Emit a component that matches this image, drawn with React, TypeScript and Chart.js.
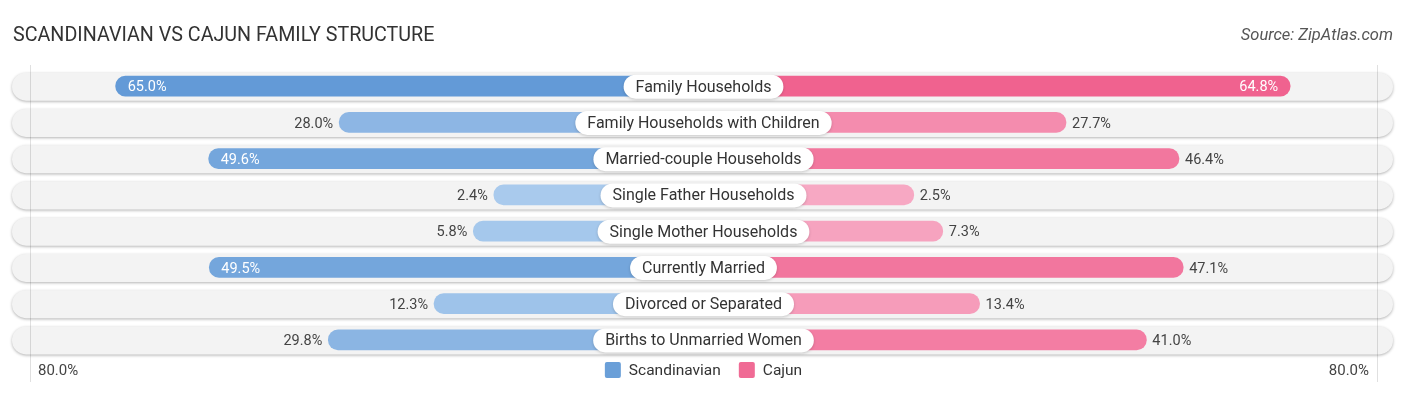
import React, { useEffect, useRef } from "react";
import { Chart, registerables } from "chart.js";
Chart.register(...registerables);

const categories = [
  "Family Households",
  "Family Households with Children",
  "Married-couple Households",
  "Single Father Households",
  "Single Mother Households",
  "Currently Married",
  "Divorced or Separated",
  "Births to Unmarried Women",
];
const scandinavian = [65.0, 28.0, 49.6, 2.4, 5.8, 49.5, 12.3, 29.8];
const cajun = [64.8, 27.7, 46.4, 2.5, 7.3, 47.1, 13.4, 41.0];
const seriesNames = ["Scandinavian", "Cajun"];
const axisMax = 80;
const axisTickLabels = ["80.0%", "80.0%"];
const titleText = "SCANDINAVIAN VS CAJUN FAMILY STRUCTURE";
const sourceText = "Source: ZipAtlas.com";

const OFF = 32.3; // space reserved under the centre label, in value units
const FONT = "Roboto, 'Noto Sans', sans-serif";

const BLUE_STRONG = [99, 154, 215];
const BLUE_LIGHT = [172, 204, 238];
const PINK_STRONG = [240, 98, 143];
const PINK_LIGHT = [247, 171, 197];

function mix(a: number[], b: number[], t: number) {
  const c = a.map((av, i) => Math.round(av + (b[i] - av) * t));
  return `rgb(${c[0]},${c[1]},${c[2]})`;
}
function shade(light: number[], strong: number[], v: number) {
  const t = Math.max(0, Math.min(1, v / 65));
  return mix(light, strong, t);
}

function rr(ctx: CanvasRenderingContext2D, x: number, y: number, w: number, h: number, r: number) {
  ctx.beginPath();
  ctx.moveTo(x + r, y);
  ctx.lineTo(x + w - r, y);
  ctx.arcTo(x + w, y, x + w, y + r, r);
  ctx.lineTo(x + w, y + h - r);
  ctx.arcTo(x + w, y + h, x + w - r, y + h, r);
  ctx.lineTo(x + r, y + h);
  ctx.arcTo(x, y + h, x, y + h - r, r);
  ctx.lineTo(x, y + r);
  ctx.arcTo(x, y, x + r, y, r);
  ctx.closePath();
}

const rowBg = {
  id: "rowBg",
  beforeDatasetsDraw(chart: any) {
    const { ctx, scales } = chart;
    const y = scales.y;
    const left = 12;
    const right = 1393;
    ctx.save();
    categories.forEach((_, i) => {
      const cy = y.getPixelForValue(i) + 0.5;
      const h = 28;
      ctx.save();
      rr(ctx, left, cy - h / 2, right - left, h, h / 2);
      ctx.shadowColor = "rgba(0,0,0,0.3)";
      ctx.shadowBlur = 3;
      ctx.shadowOffsetY = 1;
      ctx.fillStyle = "#f3f3f3";
      ctx.fill();
      ctx.restore();
    });
    ctx.strokeStyle = "rgba(0,0,0,0.12)";
    ctx.lineWidth = 1;
    for (const px of [30.5, 1377.5]) {
      ctx.beginPath();
      ctx.moveTo(px, 65);
      ctx.lineTo(px, 382);
      ctx.stroke();
    }
    ctx.restore();
  },
};

const labelsPlugin = {
  id: "labelsPlugin",
  afterDatasetsDraw(chart: any) {
    const { ctx, scales } = chart;
    const x = scales.x;
    const y = scales.y;
    const cx = x.getPixelForValue(0);
    ctx.save();
    categories.forEach((cat, i) => {
      const cy = y.getPixelForValue(i);
      // centre label pill
      ctx.font = `16px ${FONT}`;
      const tw = ctx.measureText(cat).width;
      const w = tw + 24;
      const h = 24;
      ctx.save();
      rr(ctx, cx - w / 2, cy - h / 2 + 0.5, w, h, h / 2);
      ctx.shadowColor = "rgba(0,0,0,0.18)";
      ctx.shadowBlur = 3;
      ctx.shadowOffsetY = 1;
      ctx.fillStyle = "#ffffff";
      ctx.fill();
      ctx.restore();
      ctx.fillStyle = "#333333";
      ctx.textAlign = "center";
      ctx.textBaseline = "middle";
      ctx.fillText(cat, cx, cy + 1.5);

      // value labels
      ctx.font = `14.5px ${FONT}`;
      const sv = scandinavian[i];
      const lpx = x.getPixelForValue(-(sv + OFF));
      const sTxt = sv.toFixed(1) + "%";
      if (sv >= 48) {
        ctx.fillStyle = "#ffffff";
        ctx.textAlign = "left";
        ctx.fillText(sTxt, lpx + 12, cy + 1.5);
      } else {
        ctx.fillStyle = "#444444";
        ctx.textAlign = "right";
        ctx.fillText(sTxt, lpx - 6, cy + 1.5);
      }
      const cv = cajun[i];
      const rpx = x.getPixelForValue(cv + OFF);
      const cTxt = cv.toFixed(1) + "%";
      if (cv >= 48) {
        ctx.fillStyle = "#ffffff";
        ctx.textAlign = "right";
        ctx.fillText(cTxt, rpx - 12, cy + 1.5);
      } else {
        ctx.fillStyle = "#444444";
        ctx.textAlign = "left";
        ctx.fillText(cTxt, rpx + 6, cy + 1.5);
      }
    });
    ctx.restore();
  },
  afterDraw(chart: any) {
    const { ctx, scales } = chart;
    const x = scales.x;
    ctx.save();
    // title
    ctx.font = `19.7px ${FONT}`;
    ctx.fillStyle = "#333333";
    ctx.textAlign = "left";
    ctx.textBaseline = "alphabetic";
    ctx.fillText(titleText, 13, 41);
    // source
    ctx.font = `italic 16.5px ${FONT}`;
    ctx.fillStyle = "#555555";
    ctx.textAlign = "right";
    ctx.fillText(sourceText, 1393, 40);
    // axis tick labels
    ctx.font = `15px ${FONT}`;
    ctx.fillStyle = "#444444";
    ctx.textBaseline = "middle";
    ctx.textAlign = "left";
    ctx.fillText(axisTickLabels[0], 38, 371);
    ctx.textAlign = "right";
    ctx.fillText(axisTickLabels[1], 1369, 371);
    // legend
    const items = [
      { name: seriesNames[0], color: "rgb(106,159,216)" },
      { name: seriesNames[1], color: "rgb(240,107,149)" },
    ];
    ctx.font = `15.5px ${FONT}`;
    const sq = 16;
    const gap = 8;
    const itemGap = 18;
    const widths = items.map((it) => sq + gap + ctx.measureText(it.name).width);
    const total = widths.reduce((a, b) => a + b, 0) + itemGap;
    let lx = x.getPixelForValue(0) - total / 2;
    const ly = 370;
    items.forEach((it, k) => {
      ctx.fillStyle = it.color;
      rr(ctx, lx, ly - sq / 2, sq, sq, 2);
      ctx.fill();
      ctx.fillStyle = "#333333";
      ctx.textAlign = "left";
      ctx.fillText(it.name, lx + sq + gap, ly + 1);
      lx += widths[k] + itemGap;
    });
    ctx.restore();
  },
};

export default function App() {
  const ref = useRef<HTMLCanvasElement>(null);
  useEffect(() => {
    const canvas = ref.current;
    if (!canvas) return;
    const chart = new Chart(canvas, {
      type: "bar",
      data: {
        labels: categories,
        datasets: [
          {
            label: seriesNames[0],
            data: scandinavian.map((v) => [-(v + OFF), 0]) as any,
            backgroundColor: scandinavian.map((v) => shade(BLUE_LIGHT, BLUE_STRONG, v)),
            borderRadius: 10,
            borderSkipped: false,
            barThickness: 20,
            grouped: false,
          } as any,
          {
            label: seriesNames[1],
            data: cajun.map((v) => [0, v + OFF]) as any,
            backgroundColor: cajun.map((v) => shade(PINK_LIGHT, PINK_STRONG, v)),
            borderRadius: 10,
            borderSkipped: false,
            barThickness: 20,
            grouped: false,
          } as any,
        ],
      },
      options: {
        indexAxis: "y",
        responsive: false,
        animation: false,
        layout: { padding: { left: 25, right: 24, top: 68, bottom: 37 } },
        scales: {
          x: { display: false, min: -(axisMax + OFF), max: axisMax + OFF },
          y: { display: false },
        },
        plugins: {
          legend: { display: false },
          tooltip: { enabled: false },
          title: { display: false },
        },
      },
      plugins: [rowBg, labelsPlugin],
    });
    return () => chart.destroy();
  }, []);
  return (
    <div style={{ position: "fixed", left: 0, top: 0, width: 1406, height: 395, background: "#ffffff" }}>
      <canvas ref={ref} width={1406} height={395} style={{ width: 1406, height: 395, display: "block" }} />
    </div>
  );
}
